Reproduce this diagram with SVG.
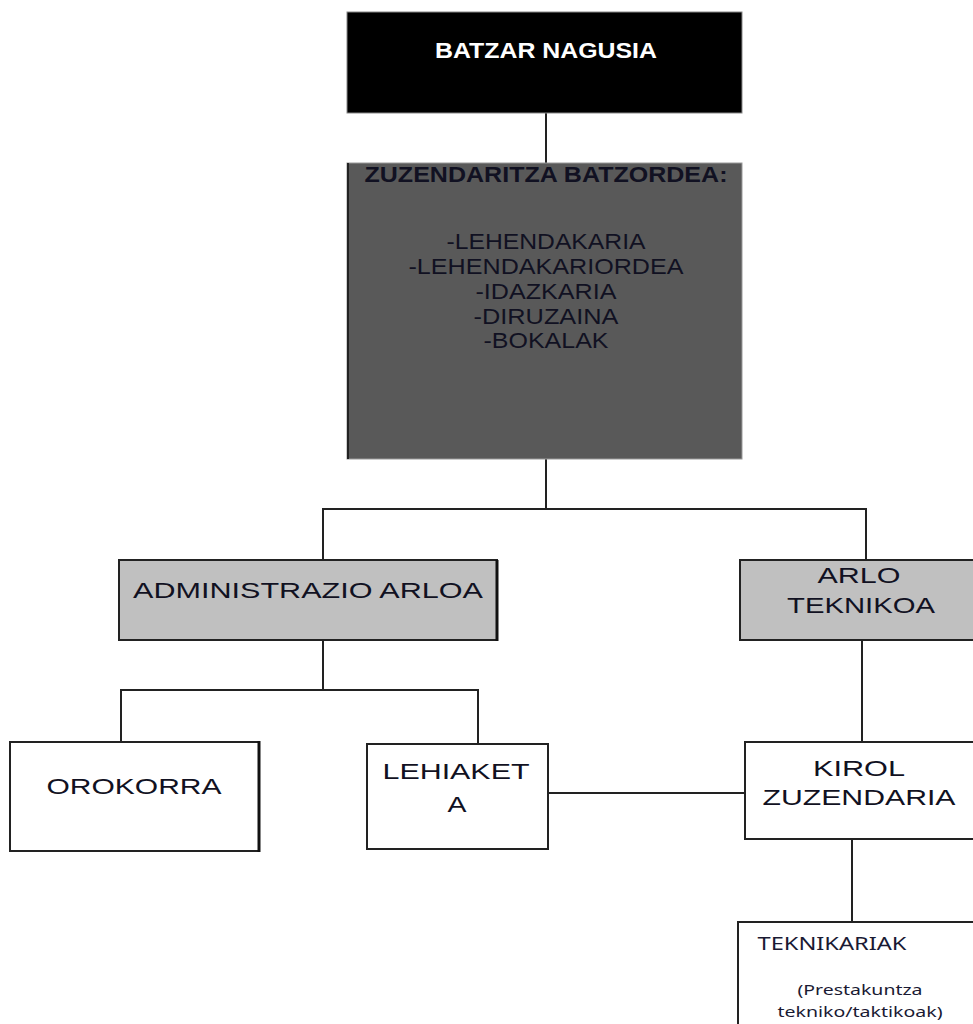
<svg xmlns="http://www.w3.org/2000/svg" width="973" height="1024" viewBox="0 0 973 1024">
<style>
  .t { font-family: "Liberation Sans", Arial, sans-serif; font-size: 22px; fill: #111122; text-anchor: middle; }
  .b { font-weight: bold; }
  .w { fill: #ffffff; }
  .c { font-family: "Noto Sans", "Open Sans", sans-serif; fill: #1a1a33; text-anchor: middle; }
  .conn { stroke: #222222; stroke-width: 2; fill: none; }
  .box { stroke: #222222; stroke-width: 2; }
</style>
<rect width="973" height="1024" fill="#ffffff"/>
<g id="connectors">
  <line class="conn" x1="546" y1="113" x2="546" y2="163"/>
  <polyline class="conn" points="546,459 546,509"/>
  <polyline class="conn" points="323,560 323,509 866,509 866,560"/>
  <polyline class="conn" points="323,640 323,690"/>
  <polyline class="conn" points="121,742 121,690 478,690 478,744"/>
  <line class="conn" x1="862" y1="640" x2="862" y2="742"/>
  <line class="conn" x1="548" y1="793" x2="745" y2="793"/>
  <line class="conn" x1="852" y1="839" x2="852" y2="922"/>
</g>
<g id="batzar-nagusia">
  <rect x="347" y="12" width="395" height="101" fill="#000000" stroke="#888888" stroke-width="1"/>
  <text class="t b w" x="546" y="58" font-size="21" textLength="222" lengthAdjust="spacingAndGlyphs">BATZAR NAGUSIA</text>
</g>
<g id="zuzendaritza-batzordea">
  <rect x="347" y="163" width="395" height="296" fill="#595959" stroke="#9a9a9a" stroke-width="1"/>
  <line x1="348" y1="163" x2="348" y2="459" stroke="#222222" stroke-width="2"/>
  <text class="t b" x="546" y="182" font-size="22" textLength="363" lengthAdjust="spacingAndGlyphs">ZUZENDARITZA BATZORDEA:</text>
  <text class="t" x="546" y="249" textLength="199" lengthAdjust="spacingAndGlyphs">-LEHENDAKARIA</text>
  <text class="t" x="546" y="274" textLength="275" lengthAdjust="spacingAndGlyphs">-LEHENDAKARIORDEA</text>
  <text class="t" x="546" y="299" textLength="141" lengthAdjust="spacingAndGlyphs">-IDAZKARIA</text>
  <text class="t" x="546" y="324" textLength="145" lengthAdjust="spacingAndGlyphs">-DIRUZAINA</text>
  <text class="t" x="546" y="348" textLength="125" lengthAdjust="spacingAndGlyphs">-BOKALAK</text>
</g>
<g id="administrazio-arloa">
  <rect class="box" x="119" y="560" width="378" height="80" fill="#c0c0c0"/>
  <line x1="497" y1="560" x2="497" y2="641" stroke="#111111" stroke-width="3"/>
  <text class="t" x="308" y="598" font-size="23" textLength="350" lengthAdjust="spacingAndGlyphs">ADMINISTRAZIO ARLOA</text>
</g>
<g id="arlo-teknikoa">
  <rect class="box" x="740" y="560" width="250" height="80" fill="#c0c0c0"/>
  <text class="t" x="859" y="583" font-size="21" textLength="83" lengthAdjust="spacingAndGlyphs">ARLO</text>
  <text class="t" x="861" y="613" font-size="21" textLength="148" lengthAdjust="spacingAndGlyphs">TEKNIKOA</text>
</g>
<g id="orokorra">
  <rect class="box" x="10" y="742" width="249" height="109" fill="#ffffff"/>
  <line x1="259" y1="741" x2="259" y2="852" stroke="#111111" stroke-width="3"/>
  <text class="t" x="134" y="794" font-size="24" textLength="175" lengthAdjust="spacingAndGlyphs">OROKORRA</text>
</g>
<g id="lehiaketa">
  <rect class="box" x="367" y="744" width="181" height="105" fill="#ffffff"/>
  <text class="t" x="456" y="779" font-size="23" textLength="147" lengthAdjust="spacingAndGlyphs">LEHIAKET</text>
  <text class="t" x="457" y="812" font-size="23" textLength="19" lengthAdjust="spacingAndGlyphs">A</text>
</g>
<g id="kirol-zuzendaria">
  <rect class="box" x="745" y="742" width="245" height="97" fill="#ffffff"/>
  <text class="t" x="859" y="776" font-size="24" textLength="92" lengthAdjust="spacingAndGlyphs">KIROL</text>
  <text class="t" x="859" y="805" font-size="24" textLength="193" lengthAdjust="spacingAndGlyphs">ZUZENDARIA</text>
</g>
<g id="teknikariak">
  <rect class="box" x="738" y="922" width="252" height="120" fill="#ffffff"/>
  <text class="c" x="832" y="950" font-size="18" textLength="149" lengthAdjust="spacingAndGlyphs">TEKNIKARIAK</text>
  <text class="c" x="860" y="995" font-size="15" textLength="125" lengthAdjust="spacingAndGlyphs">(Prestakuntza</text>
  <text class="c" x="860" y="1017" font-size="15" textLength="165" lengthAdjust="spacingAndGlyphs">tekniko/taktikoak)</text>
</g>
</svg>
